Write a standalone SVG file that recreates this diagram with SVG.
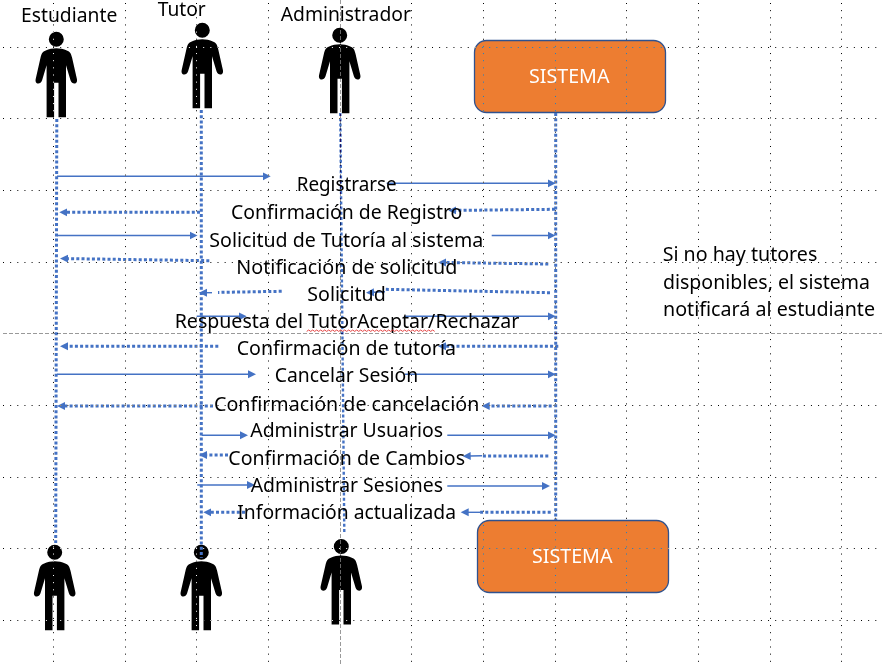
<svg xmlns="http://www.w3.org/2000/svg" xmlns:xlink="http://www.w3.org/1999/xlink" width="882" height="670" viewBox="0 0 882 670">
<style>
text{font-family:"Noto Sans","Open Sans","Liberation Sans",sans-serif;font-size:19.5px;fill:#000}
.sys{fill:#fff;font-size:19px}
.box{fill:#ED7D31;stroke:#2F528F;stroke-width:1.3}
.person{fill:#000}
.life{fill:none;stroke:#4472C4;stroke-width:3;stroke-dasharray:3 2.2}
.life2{fill:none;stroke:#4472C4;stroke-width:2.4;stroke-dasharray:3 2.2}
.s{fill:none;stroke:#4472C4;stroke-width:1.4;marker-end:url(#h)}
.d{fill:none;stroke:#4472C4;stroke-width:3;stroke-dasharray:3 2.2;marker-end:url(#h)}
.n{fill:none;stroke:#4472C4;stroke-width:3;stroke-dasharray:3 2.2}
.grid{mix-blend-mode:difference;fill:none}
.dot{stroke:#fff;stroke-width:1;stroke-dasharray:1 6.15}
.dash{stroke:#666;stroke-width:1;stroke-dasharray:4 2}
</style>
<defs>
<marker id="h" markerUnits="userSpaceOnUse" markerWidth="10" markerHeight="10" refX="1" refY="4.5" orient="auto"><path d="M0 .5L8 4.5L0 8.5z" fill="#4472C4"/></marker>
<path id="p" d="M-9.7 78V26L-14.2 41C-15 43.2-16.4 44.3-18 44.3C-20.2 44.3-21.2 42-20.6 39.6L-15.8 18.5C-14.9 14.5-13.8 12.4-10.5 11.2C-7.5 9.9-3.5 9 0 9C3.5 9 7.5 9.9 10.5 11.2C13.8 12.4 14.9 14.5 15.8 18.5L20.6 39.6C21.2 42 20.2 44.3 18 44.3C16.4 44.3 15 43.2 14.2 41L9.7 26V78H2.2V43.4H-2.2V78ZM7.5 0A7.5 7.5 0 1 1-7.5 0A7.5 7.5 0 1 1 7.5 0Z"/>
</defs>
<rect width="882" height="670" fill="#fff"/>
<g id="actor-estudiante-top"><use xlink:href="#p" href="#p" class="person" x="56.3" y="39.3"/></g>
<g id="actor-tutor-top"><use xlink:href="#p" href="#p" class="person" x="202.3" y="30.3"/></g>
<g id="actor-administrador-top"><use xlink:href="#p" href="#p" class="person" x="339.7" y="35.3"/></g>
<g id="actor-estudiante-bottom"><use xlink:href="#p" href="#p" class="person" x="54.7" y="552.3"/></g>
<g id="actor-tutor-bottom"><use xlink:href="#p" href="#p" class="person" x="201.3" y="552.3"/></g>
<g id="actor-administrador-bottom"><use xlink:href="#p" href="#p" class="person" x="341.3" y="546.5"/></g>
<g id="sistema-top"><rect class="box" x="474.5" y="40.5" width="191" height="72" rx="12"/></g>
<g id="sistema-bottom"><rect class="box" x="477.5" y="520.5" width="191" height="72" rx="12"/></g>
<g id="connectors">
<path class="life" d="M56.8 119L55.7 543"/>
<path class="life" d="M201.3 110V558"/>
<path class="life2" d="M340.3 113L344.3 532"/>
<path class="life" d="M555.7 113V520"/>
<path class="s" d="M57 176.3H263.7"/>
<path class="s" d="M386.7 183.3H548.7"/>
<path class="s" d="M57 235.5H190.5"/>
<path class="s" d="M491.7 235.5H548.5"/>
<path class="s" d="M196.7 316.3H239.7"/>
<path class="s" d="M405 316.3H548.7"/>
<path class="s" d="M57 374.3H249"/>
<path class="s" d="M405 374.3H548.7"/>
<path class="s" d="M201.7 435.3H241"/>
<path class="s" d="M447.3 435.3H548.7"/>
<path class="s" d="M197.3 485H248"/>
<path class="s" d="M447.3 486H543"/>
<path class="d" d="M200 212.3H66.3"/>
<path class="d" d="M555 209.3L455.3 210.4"/>
<path class="d" d="M209.3 260.7L67 258.6"/>
<path class="d" d="M548.3 264L445 262.5"/>
<path class="n" d="M281.7 291.3L218 292.4"/>
<path class="s" d="M212 292.7H206"/>
<path class="n" d="M550 292.7L385 289.3"/>
<path class="s" d="M385 291.7L373 292.3"/>
<path class="d" d="M218.3 346.3H67"/>
<path class="d" d="M558.3 346.3H445"/>
<path class="d" d="M213 406H64"/>
<path class="d" d="M551.7 406H488.7"/>
<path class="d" d="M228 455H206"/>
<path class="n" d="M548.3 456H482"/>
<path class="s" d="M482 455.7L469.7 456"/>
<path class="d" d="M245 512.3H210.3"/>
<path class="n" d="M550.7 512.3H480"/>
<path class="s" d="M480 512.3H467.7"/>
</g>
<g id="grid" class="grid">
<path class="dot" d="M53.5 3V665M125.5 3V665M196.5 3V665M268.5 3V665M411.5 3V665M483.5 3V665M555.5 3V665M626.5 3V665M698.5 3V665M770.5 3V665M841.5 3V665"/>
<path class="dot" d="M3 47.5H882M3 118.5H882M3 190.5H882M3 262.5H882M3 405.5H882M3 477.5H882M3 548.5H882M3 620.5H882"/>
<path class="dash" d="M340.5 0V665M3 333.5H882"/>
</g>
<g id="labels">
<text x="21" y="21.7" textLength="96.3" lengthAdjust="spacingAndGlyphs">Estudiante</text>
<text x="157.7" y="15.7" textLength="48" lengthAdjust="spacingAndGlyphs">Tutor</text>
<text x="280.7" y="20.7" textLength="130.3" lengthAdjust="spacingAndGlyphs">Administrador</text>
<text class="sys" x="529" y="82.7" textLength="80.5" lengthAdjust="spacingAndGlyphs">SISTEMA</text>
<text class="sys" x="532" y="563" textLength="80.5" lengthAdjust="spacingAndGlyphs">SISTEMA</text>
<text x="296.7" y="191" textLength="100" lengthAdjust="spacingAndGlyphs">Registrarse</text>
<text x="231" y="219.3" textLength="231.3" lengthAdjust="spacingAndGlyphs">Confirmación de Registro</text>
<text x="209.3" y="246.7" textLength="274" lengthAdjust="spacingAndGlyphs">Solicitud de Tutoría al sistema</text>
<text x="236.3" y="274" textLength="221" lengthAdjust="spacingAndGlyphs">Notificación de solicitud</text>
<text x="307.3" y="300.7" textLength="78.4" lengthAdjust="spacingAndGlyphs">Solicitud</text>
<text x="174.7" y="328.3" textLength="344.6" lengthAdjust="spacingAndGlyphs">Respuesta del TutorAceptar/Rechazar</text>
<text x="236.7" y="355" textLength="219.3" lengthAdjust="spacingAndGlyphs">Confirmación de tutoría</text>
<text x="274.7" y="382.3" textLength="143.6" lengthAdjust="spacingAndGlyphs">Cancelar Sesión</text>
<text x="214" y="410.7" textLength="265.3" lengthAdjust="spacingAndGlyphs">Confirmación de cancelación</text>
<text x="250.3" y="437.3" textLength="192.7" lengthAdjust="spacingAndGlyphs">Administrar Usuarios</text>
<text x="228.3" y="465" textLength="236.7" lengthAdjust="spacingAndGlyphs">Confirmación de Cambios</text>
<text x="250.7" y="492.3" textLength="192.3" lengthAdjust="spacingAndGlyphs">Administrar Sesiones</text>
<text x="237.3" y="519.3" textLength="218.7" lengthAdjust="spacingAndGlyphs">Información actualizada</text>
<text x="662.7" y="261" textLength="154.6" lengthAdjust="spacingAndGlyphs">Si no hay tutores</text>
<text x="663" y="289" textLength="207" lengthAdjust="spacingAndGlyphs">disponibles, el sistema</text>
<text x="663" y="315.7" textLength="212" lengthAdjust="spacingAndGlyphs">notificará al estudiante</text>
</g>
<path id="spellcheck" fill="none" stroke="#E03030" stroke-width=".9" d="M306.7 331.4l2-1.4 2 1.4 2-1.4 2 1.4 2-1.4 2 1.4 2-1.4 2 1.4 2-1.4 2 1.4 2-1.4 2 1.4 2-1.4 2 1.4 2-1.4 2 1.4 2-1.4 2 1.4 2-1.4 2 1.4 2-1.4 2 1.4 2-1.4 2 1.4 2-1.4 2 1.4 2-1.4 2 1.4 2-1.4 2 1.4 2-1.4 2 1.4 2-1.4 2 1.4 2-1.4 2 1.4 2-1.4 2 1.4 2-1.4 2 1.4 2-1.4 2 1.4 2-1.4 2 1.4 2-1.4 2 1.4 2-1.4 2 1.4 2-1.4 2 1.4 2-1.4 2 1.4 2-1.4 2 1.4 2-1.4 2 1.4 2-1.4 2 1.4 2-1.4 2 1.4 2-1.4 2 1.4 2-1.4 2 1.4"/>
</svg>
